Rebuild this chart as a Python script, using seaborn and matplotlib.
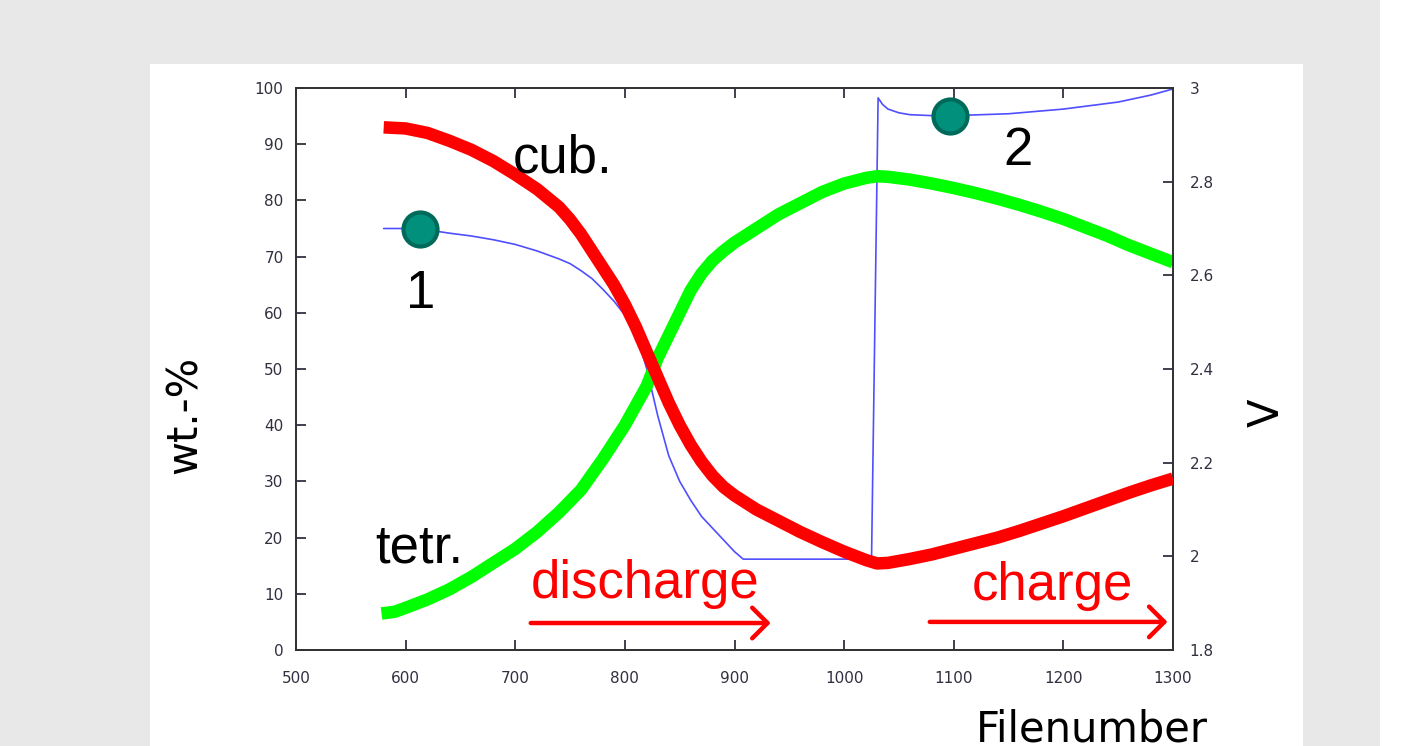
import matplotlib
matplotlib.use("Agg")
import matplotlib.pyplot as plt
import seaborn as sns
import pandas as pd
from matplotlib.patches import Rectangle, FancyArrowPatch

# ---- data -------------------------------------------------------------
cub_file = [580, 600, 620, 640, 660, 680, 700, 720, 740, 750, 760, 770, 780,
            790, 800, 810, 820, 830, 840, 850, 860, 870, 880, 890, 900, 920,
            940, 960, 980, 1000, 1020, 1030, 1040, 1060, 1080, 1100, 1120,
            1140, 1160, 1180, 1200, 1220, 1240, 1260, 1280, 1300]
cub_wt = [93, 92.8, 92, 90.6, 89, 87, 84.6, 82, 78.8, 76.6, 74, 71, 68,
          65, 61.5, 57.5, 53, 48.5, 44, 40, 36.5, 33.5, 31, 29, 27.5, 25,
          23, 21, 19.2, 17.5, 16, 15.4, 15.5, 16.2, 17, 18, 19,
          20, 21.2, 22.5, 23.8, 25.2, 26.6, 28, 29.3, 30.5]

tetr_file = [578, 590, 600, 620, 640, 660, 680, 700, 720, 740, 760, 780, 800,
             810, 820, 830, 840, 850, 860, 870, 880, 890, 900, 920, 940, 960,
             980, 1000, 1020, 1030, 1040, 1060, 1080, 1100, 1120, 1140, 1160,
             1180, 1200, 1220, 1240, 1260, 1280, 1300]
tetr_wt = [6.5, 6.8, 7.5, 9, 10.8, 13, 15.5, 18, 21, 24.5, 28.5, 34, 40,
           43.5, 47, 52, 56, 60, 64, 67, 69.3, 71, 72.5, 75, 77.5, 79.5,
           81.5, 83, 84, 84.3, 84.2, 83.7, 83, 82.2, 81.3, 80.3, 79.2,
           78, 76.7, 75.2, 73.7, 72, 70.5, 69]

volt_file = [580, 600, 620, 640, 660, 680, 700, 720, 740, 750, 760, 770, 780,
             790, 800, 810, 815, 820, 825, 830, 840, 850, 860, 870, 880, 890,
             900, 908, 1025, 1031, 1035, 1040, 1050, 1060, 1080, 1100, 1150,
             1200, 1250, 1280, 1300]
volt_v = [2.70, 2.70, 2.697, 2.69, 2.684, 2.676, 2.666, 2.652, 2.635, 2.625,
          2.61, 2.593, 2.57, 2.545, 2.515, 2.47, 2.44, 2.40, 2.35, 2.30, 2.215,
          2.16, 2.12, 2.085, 2.06, 2.035, 2.01, 1.994, 1.994, 2.979, 2.965,
          2.955, 2.947, 2.943, 2.941, 2.941, 2.945, 2.955, 2.97, 2.985, 2.998]

point_file = [613, 1097]
point_wt = [75, 95]
point_names = ["1", "2"]

x_ticks = [500, 600, 700, 800, 900, 1000, 1100, 1200, 1300]
wt_ticks = [0, 10, 20, 30, 40, 50, 60, 70, 80, 90, 100]
v_ticks = [1.8, 2.0, 2.2, 2.4, 2.6, 2.8, 3.0]
v_tick_labels = ["1.8", "2", "2.2", "2.4", "2.6", "2.8", "3"]

cub_df = pd.DataFrame({"file": cub_file, "wt": cub_wt})
tetr_df = pd.DataFrame({"file": tetr_file, "wt": tetr_wt})
volt_df = pd.DataFrame({"file": volt_file, "V": volt_v})
pts_df = pd.DataFrame({"file": point_file, "wt": point_wt})

# ---- figure -----------------------------------------------------------
sns.set_theme(style="white")
plt.rcParams["font.family"] = ["DejaVu Sans"]

W, H = 1418, 746
fig = plt.figure(figsize=(W / 100, H / 100), dpi=100)
fig.patch.set_facecolor("#e8e8e8")
fig.add_artist(Rectangle((150 / W, 0), 1153 / W, 682 / H, transform=fig.transFigure,
                         facecolor="white", edgecolor="none", zorder=0))
fig.add_artist(Rectangle((1380 / W, 0), 38 / W, 1, transform=fig.transFigure,
                         facecolor="white", edgecolor="none", zorder=0))

ax = fig.add_axes([296 / W, 96 / H, 877 / W, 562 / H])
ax2 = ax.twinx()

# phase fractions
sns.lineplot(data=cub_df, x="file", y="wt", ax=ax, color="#ff0000",
             linewidth=9, solid_capstyle="butt", solid_joinstyle="round", zorder=3)
sns.lineplot(data=tetr_df, x="file", y="wt", ax=ax, color="#00ff00",
             linewidth=9, solid_capstyle="butt", solid_joinstyle="round", zorder=2)

# cell voltage
sns.lineplot(data=volt_df, x="file", y="V", ax=ax2, color="#3030ff",
             linewidth=1.2, alpha=0.85)

# measurement points
sns.scatterplot(data=pts_df, x="file", y="wt", ax=ax, s=600, color="#00907c",
                edgecolor="#006a5a", linewidth=3, zorder=6)

# voltage axis sits behind the wt.-% axis so the markers stay on top
ax2.set_zorder(1)
ax.set_zorder(2)
ax.set_facecolor("none")
ax2.set_facecolor("none")

ax.set_xlim(500, 1300)
ax.set_ylim(0, 100)
ax2.set_ylim(1.8, 3.0)
ax.set_xticks(x_ticks)
ax.set_xticklabels([str(t) for t in x_ticks])
ax.set_yticks(wt_ticks)
ax.set_yticklabels([str(t) for t in wt_ticks])
ax2.set_yticks(v_ticks)
ax2.set_yticklabels(v_tick_labels)
ax.set_xlabel("")
ax.set_ylabel("")
ax2.set_ylabel("")

tick_col = "#303040"
ax.tick_params(axis="x", direction="in", length=7, width=1.3, top=True,
               bottom=True, pad=15, labelsize=11, colors=tick_col)
ax.tick_params(axis="y", direction="in", length=7, width=1.3, left=True,
               right=False, pad=9, labelsize=11, colors=tick_col)
ax2.tick_params(axis="y", direction="in", length=7, width=1.3, right=True,
                pad=12, labelsize=11, colors=tick_col)
for a in (ax, ax2):
    for s in a.spines.values():
        s.set_color("#333333")
        s.set_linewidth(1.3)
        s.set_visible(True)

# annotations
big = dict(family=["Liberation Sans", "DejaVu Sans"], fontsize=38)
ax.text(698, 84.9, "cub.", ha="left", va="baseline", color="black", **big)
ax.text(572, 15.5, "tetr.", ha="left", va="baseline", color="black", **big)
ax.text(point_file[0] + 1, 60.9, point_names[0], ha="center", va="baseline",
        color="black", **big)
ax.text(1158.6, 86.3, point_names[1], ha="center", va="baseline",
        color="black", **big)
ax.text(714, 9.25, "discharge", ha="left", va="baseline", color="#ff0000", **big)
ax.text(1116, 8.9, "charge", ha="left", va="baseline", color="#ff0000", **big)

for x0, x1, y in [(711.6, 935.5, 4.8), (1075.6, 1297.5, 5.0)]:
    ax.add_patch(FancyArrowPatch((x0, y), (x1, y),
                                 arrowstyle="->,head_length=0.55,head_width=0.55",
                                 mutation_scale=20, color="#ff0000", linewidth=3.2,
                                 zorder=5, clip_on=False))

lab = dict(family=["DejaVu Sans"], fontsize=30, color="black")
fig.text(185 / W, 1 - 415 / H, "wt.-%", rotation=90, ha="center", va="center", **lab)
fig.text(1267 / W, 1 - 413 / H, "V", rotation=90, ha="center", va="center", **lab)
fig.text(1092 / W, 1 - 741 / H, "Filenumber", ha="center", va="baseline", **lab)

fig.savefig("out.png", dpi=100, facecolor=fig.get_facecolor())
